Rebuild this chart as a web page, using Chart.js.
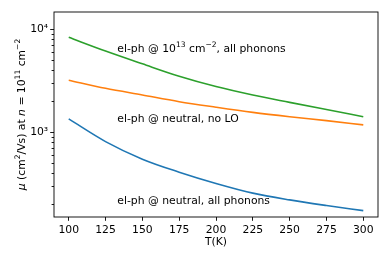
<!DOCTYPE html>
<html>
<head>
<meta charset="utf-8">
<script src="https://cdn.jsdelivr.net/npm/chart.js@4.4.1/dist/chart.umd.min.js"></script>
<style>
  body { margin: 0; background: #fff; }
  #wrap { width: 390px; height: 260px; }
</style>
</head>
<body>
<div id="wrap"><canvas id="muChart" width="390" height="260"></canvas></div>
<script>
// temperatures (K)
const temps = [100, 125, 150, 175, 200, 225, 250, 275, 300];
// mobility values (cm^2/Vs)
const muDoped = [8360, 6150, 4620, 3500, 2780, 2300, 1950, 1660, 1415];
const muNoLO = [3200, 2670, 2300, 1980, 1750, 1560, 1415, 1296, 1178];
const muAll = [1346, 811, 547, 409, 318, 256, 220, 194, 173];

const xTicks = [100, 125, 150, 175, 200, 225, 250, 275, 300];
const yMajor = [1000, 10000];
const yMinor = [200, 300, 400, 500, 600, 700, 800, 900, 2000, 3000, 4000, 5000, 6000, 7000, 8000, 9000];
const yLabels = { 1000: '10³', 10000: '10⁴' };

// annotation positions in data units
const annX = [133, 133, 133];
const annY = [6440, 1345, 212];
const annText = [
    [{ t: 'el-ph @ 10' }, { t: '13', sup: true }, { t: ' cm' }, { t: '−2', sup: true }, { t: ', all phonons' }],
    [{ t: 'el-ph @ neutral, no LO' }],
    [{ t: 'el-ph @ neutral, all phonons' }]
];

const FONT = '"DejaVu Sans", sans-serif';
const FS = 10.8;

function partFont(p) {
    const size = p.sup ? FS * 0.7 : FS;
    return (p.it ? 'italic ' : '') + size + 'px ' + FONT;
}

function richWidth(ctx, parts) {
    let w = 0;
    parts.forEach(p => { ctx.font = partFont(p); w += ctx.measureText(p.t).width; });
    return w;
}

function drawRich(ctx, parts, x, y) {
    ctx.textAlign = 'left';
    ctx.textBaseline = 'middle';
    let cx = x;
    parts.forEach(p => {
        ctx.font = partFont(p);
        ctx.fillText(p.t, cx, p.sup ? y - FS * 0.38 : y);
        cx += ctx.measureText(p.t).width;
    });
}

const yTitle = [
    { t: 'μ', it: true }, { t: ' (cm' }, { t: '2', sup: true }, { t: '/Vs) at ' },
    { t: 'n', it: true }, { t: ' = 10' }, { t: '11', sup: true }, { t: ' cm' }, { t: '−2', sup: true }
];

const extras = {
    id: 'extras',
    afterDraw(chart) {
        const ctx = chart.ctx;
        const a = chart.chartArea;
        const ys = chart.scales.y;
        const xs = chart.scales.x;
        ctx.save();
        ctx.strokeStyle = '#000';
        ctx.lineWidth = 0.9;
        ctx.strokeRect(a.left, a.top, a.right - a.left, a.bottom - a.top);
        // minor ticks
        ctx.beginPath();
        yMinor.forEach(v => {
            const py = Math.round(ys.getPixelForValue(v)) + 0.5;
            ctx.moveTo(a.left, py);
            ctx.lineTo(a.left - 2.4, py);
        });
        ctx.stroke();
        ctx.fillStyle = '#000';
        // annotations
        annText.forEach((parts, i) => {
            drawRich(ctx, parts, xs.getPixelForValue(annX[i]), ys.getPixelForValue(annY[i]));
        });
        // x title
        ctx.font = FS + 'px ' + FONT;
        ctx.textAlign = 'center';
        ctx.textBaseline = 'middle';
        ctx.fillText('T(K)', (a.left + a.right) / 2, 242);
        // y title
        ctx.translate(22, (a.top + a.bottom) / 2);
        ctx.rotate(-Math.PI / 2);
        drawRich(ctx, yTitle, -richWidth(ctx, yTitle) / 2, 0);
        ctx.restore();
    }
};

const mk = (data, color) => ({
    data: data,
    borderColor: color,
    backgroundColor: color,
    borderWidth: 1.6,
    pointRadius: 0,
    cubicInterpolationMode: 'monotone',
    fill: false
});

new Chart(document.getElementById('muChart').getContext('2d'), {
    type: 'line',
    data: {
        labels: temps,
        datasets: [
            mk(muAll, '#1f77b4'),
            mk(muNoLO, '#ff7f0e'),
            mk(muDoped, '#2ca02c')
        ]
    },
    options: {
        responsive: false,
        animation: false,
        layout: { padding: { top: 12, right: 12, left: 0, bottom: 0 } },
        plugins: { legend: { display: false }, tooltip: { enabled: false } },
        scales: {
            x: {
                type: 'linear',
                min: 90,
                max: 310,
                afterBuildTicks: s => { s.ticks = xTicks.map(v => ({ value: v })); },
                afterFit: s => { s.height = 43; },
                border: { display: false },
                grid: { drawOnChartArea: false, tickLength: 3.8, tickWidth: 0.9, tickColor: '#000' },
                ticks: { autoSkip: false, maxRotation: 0, padding: 3, color: '#000', font: { family: FONT, size: FS } }
            },
            y: {
                type: 'logarithmic',
                min: 150,
                max: 14730,
                afterBuildTicks: s => { s.ticks = yMajor.map(v => ({ value: v, major: true })); },
                afterFit: s => { s.width = 54; },
                border: { display: false },
                grid: { drawOnChartArea: false, tickLength: 3.8, tickWidth: 0.9, tickColor: '#000' },
                ticks: {
                    autoSkip: false,
                    padding: 2,
                    color: '#000',
                    font: { family: FONT, size: FS },
                    callback: v => yLabels[v] || ''
                }
            }
        }
    },
    plugins: [extras]
});
</script>
</body>
</html>
